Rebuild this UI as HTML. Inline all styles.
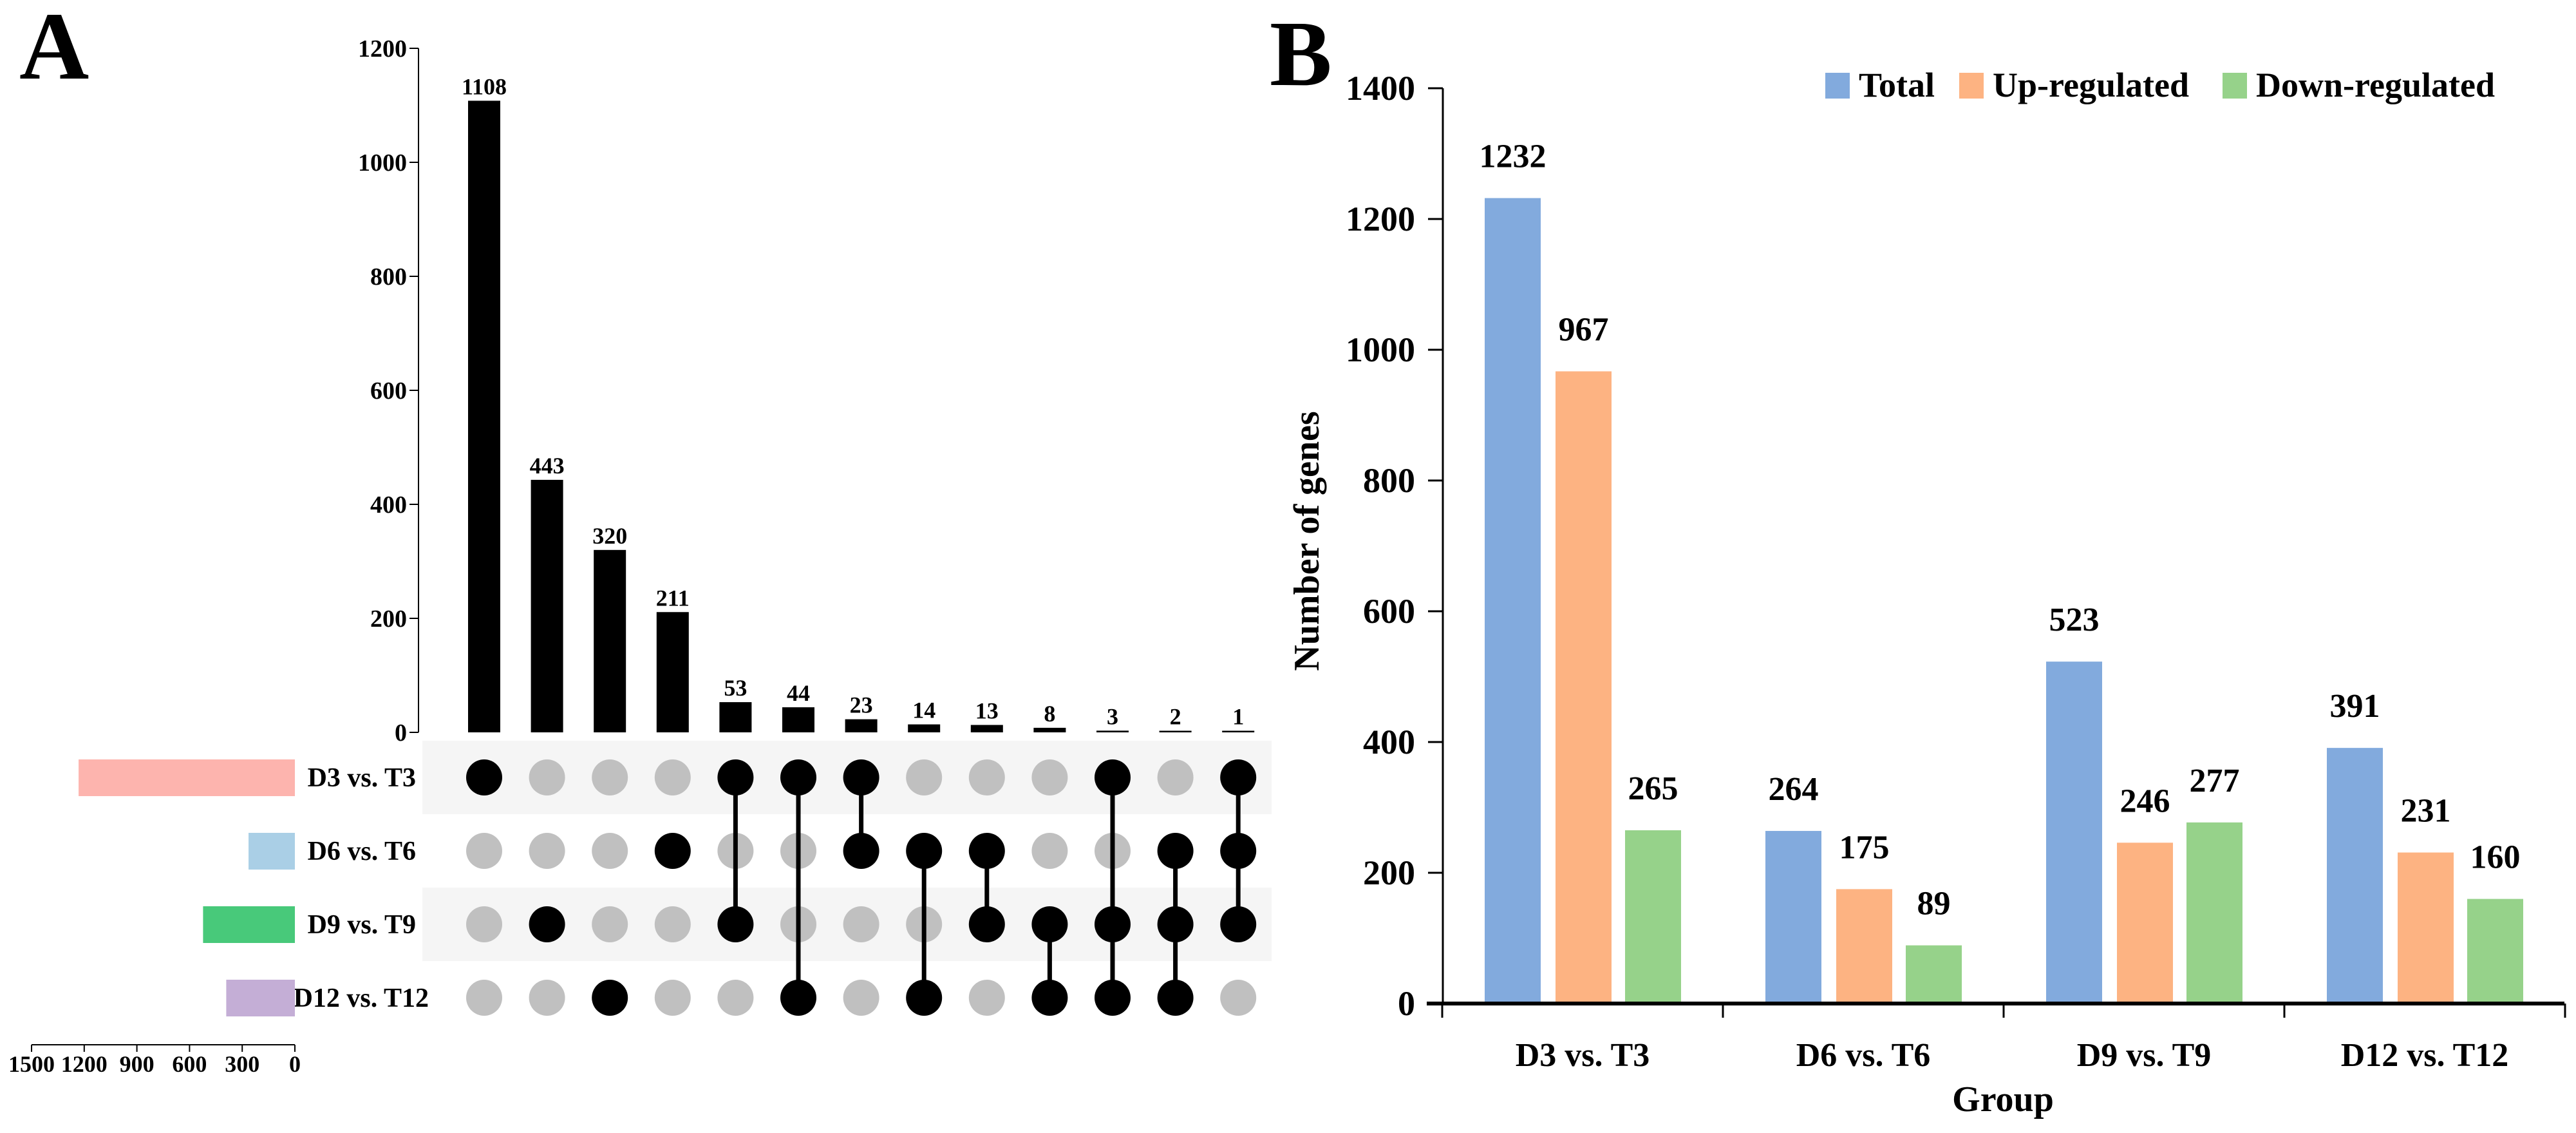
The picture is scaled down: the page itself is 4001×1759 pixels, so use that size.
<!DOCTYPE html>
<html><head><meta charset="utf-8">
<style>
html,body{margin:0;padding:0;background:#fff;}
svg{display:block;}
text{font-family:"Liberation Serif",serif;font-weight:bold;fill:#000;}
</style></head>
<body>
<svg id="chart" width="4001" height="1759" viewBox="0 0 4001 1759" xmlns="http://www.w3.org/2000/svg">
<text x="30" y="122" font-size="150">A</text>
<text x="1972" y="132" font-size="145">B</text>
<g id="pa"></g>
<g id="pb"></g>
</svg>
<script>
// ---- Panel A data ----
const setNames = ["D3 vs. T3","D6 vs. T6","D9 vs. T9","D12 vs. T12"];
const setSizes = [1232,264,523,391];
const setColors = ["#fdb4ae","#aacfe6","#48c97a","#c4aed6"];
const interValues = [1108,443,320,211,53,44,23,14,13,8,3,2,1];
const interMembers = [[0],[2],[3],[1],[0,2],[0,3],[0,1],[1,3],[1,2],[2,3],[0,2,3],[1,2,3],[0,1,2]];
const interTicks = [0,200,400,600,800,1000,1200];
const setTicks = [1500,1200,900,600,300,0];
// ---- Panel B data ----
const groups = ["D3 vs. T3","D6 vs. T6","D9 vs. T9","D12 vs. T12"];
const totalVals = [1232,264,523,391];
const upVals = [967,175,246,231];
const downVals = [265,89,277,160];
const seriesNames = ["Total","Up-regulated","Down-regulated"];
const bTicks = [0,200,400,600,800,1000,1200,1400];

const NS="http://www.w3.org/2000/svg";
function mk(parent,tag,attrs,txt){const e=document.createElementNS(NS,tag);for(const k in attrs)e.setAttribute(k,attrs[k]);if(txt!==undefined)e.textContent=txt;parent.appendChild(e);return e;}

// ===== Panel A =====
const pa=document.getElementById('pa');
const aY=v=>1137-v*(1062/1200);
const colX=i=>752+97.6*i;
const rowY=r=>1207+114*r;
const sX=v=>458-v*(409/1500);

let e=mk(pa,'line',{x1:650,y1:aY(1200),x2:650,y2:aY(0),stroke:'#000','stroke-width':2});

interTicks.forEach(t=>{
  let l=mk(pa,'line',{x1:636,y1:aY(t),x2:650,y2:aY(t),stroke:'#000','stroke-width':2});
  
  let tx=mk(pa,'text',{x:632,y:aY(t)+13,'font-size':38,'text-anchor':'end'},String(t));
  
});
[0,2].forEach(r=>{
  let b=mk(pa,'rect',{x:656,y:rowY(r)-57,width:1319,height:114,fill:'#f5f5f5'});
  
});
interValues.forEach((v,i)=>{
  const h=Math.max(aY(0)-aY(v),2.5);
  let r=mk(pa,'rect',{x:colX(i)-25,y:aY(0)-h,width:50,height:h,fill:'#000'});
  
  let t=mk(pa,'text',{x:colX(i),y:aY(0)-h-10,'font-size':36,'text-anchor':'middle'},String(v));
  
});
// gray dots first
interMembers.forEach((m,i)=>{
  for(let r=0;r<4;r++){
    if(m.includes(r)) continue;
    let c=mk(pa,'ellipse',{cx:colX(i),cy:rowY(r),rx:28,ry:28,fill:'#c0c0c0'});
    
  }
});
// connectors
interMembers.forEach((m,i)=>{
  if(m.length>1){
    const lo=Math.min(...m),hi=Math.max(...m);
    let l=mk(pa,'line',{x1:colX(i),y1:rowY(lo),x2:colX(i),y2:rowY(hi),stroke:'#000','stroke-width':7});
    
  }
});
// member dots
interMembers.forEach((m,i)=>{
  m.forEach(r=>{
    let c=mk(pa,'ellipse',{cx:colX(i),cy:rowY(r),rx:28,ry:28,fill:'#000'});
    
  });
});
setNames.forEach((n,r)=>{
  let t=mk(pa,'text',{x:n.length>10?666:646,y:rowY(r)+14,'font-size':42,'text-anchor':'end'},n);
  
  let b=mk(pa,'rect',{x:sX(setSizes[r]),y:rowY(r)-28,width:sX(0)-sX(setSizes[r]),height:57,fill:setColors[r]});
  
});
e=mk(pa,'line',{x1:sX(1500),y1:1622,x2:sX(0),y2:1622,stroke:'#000','stroke-width':2});

setTicks.forEach(t=>{
  let l=mk(pa,'line',{x1:sX(t),y1:1622,x2:sX(t),y2:1633,stroke:'#000','stroke-width':2});
  
  let tx=mk(pa,'text',{x:sX(t),y:1664,'font-size':36,'text-anchor':'middle'},String(t));
  
});

// ===== Panel B =====
const pb=document.getElementById('pb');
const bY=v=>1558-v*(1421/1400);
const divX=i=>2240+436*i;
const colors=["#82aadd","#fdb382","#96d28a"];
const series=[totalVals,upVals,downVals];
const offs=[66,176,284];
e=mk(pb,'line',{x1:2241,y1:bY(1400),x2:2241,y2:bY(0),stroke:'#000','stroke-width':3});

bTicks.forEach(t=>{
  let l=mk(pb,'line',{x1:2218,y1:bY(t),x2:2241,y2:bY(t),stroke:'#000','stroke-width':3});
  
  let tx=mk(pb,'text',{x:2198,y:bY(t)+18,'font-size':54,'text-anchor':'end'},String(t));
  
});
groups.forEach((g,i)=>{
  series.forEach((s,k)=>{
    const x=divX(i)+offs[k];
    let r=mk(pb,'rect',{x:x,y:bY(s[i]),width:87,height:bY(0)-bY(s[i]),fill:colors[k]});
    
    let t=mk(pb,'text',{x:x+43.5,y:bY(s[i])-48,'font-size':52,'text-anchor':'middle'},String(s[i]));
    
  });
  let t=mk(pb,'text',{x:divX(i)+218,y:1655,'font-size':52,'text-anchor':'middle'},g);
  
});
e=mk(pb,'line',{x1:2216,y1:1558,x2:3983,y2:1558,stroke:'#000','stroke-width':6});

for(let i=0;i<=4;i++){
  let l=mk(pb,'line',{x1:divX(i),y1:1558,x2:divX(i),y2:1580,stroke:'#000','stroke-width':3});
  
}
e=mk(pb,'text',{x:3111,y:1725,'font-size':56,'text-anchor':'middle'},'Group');

e=mk(pb,'text',{x:0,y:0,'font-size':56,'text-anchor':'middle',transform:'translate(2048,840) rotate(-90)'},'Number of genes');

const legX=[2835,3043,3452];
seriesNames.forEach((n,k)=>{
  let r=mk(pb,'rect',{x:legX[k],y:113,width:38,height:40,fill:colors[k]});
  
  let t=mk(pb,'text',{x:legX[k]+52,y:150,'font-size':54},n);
  
});
</script>
</body></html>
